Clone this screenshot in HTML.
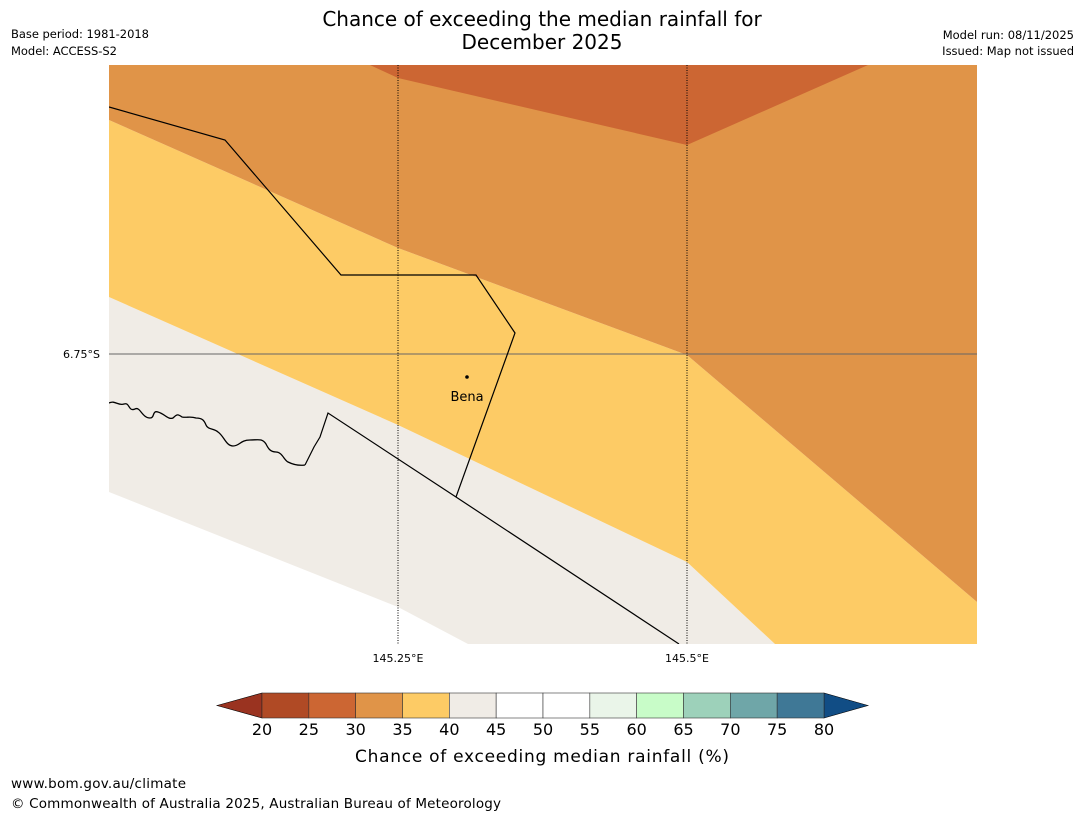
<!DOCTYPE html>
<html><head><meta charset="utf-8"><style>
body{margin:0;background:#fff;font-family:"Liberation Sans","DejaVu Sans",sans-serif}
svg{display:block}
</style></head><body>
<svg width="1085" height="816" viewBox="0 0 1085 816">
<text x="542" y="26" font-size="20" text-anchor="middle" font-family="DejaVu Sans,sans-serif">Chance of exceeding the median rainfall for</text>
<text x="542" y="49" font-size="20" text-anchor="middle" font-family="DejaVu Sans,sans-serif">December 2025</text>
<g font-size="11.5" font-family="DejaVu Sans,sans-serif">
<text x="11" y="38" textLength="138">Base period: 1981-2018</text>
<text x="11" y="55" textLength="106">Model: ACCESS-S2</text>
<text x="1074" y="39" text-anchor="end">Model run: 08/11/2025</text>
<text x="1074" y="55" text-anchor="end">Issued: Map not issued</text>
</g>
<defs><clipPath id="mc"><rect x="109" y="65" width="868" height="579"/></clipPath></defs>
<g clip-path="url(#mc)">
<rect x="109" y="65" width="868" height="579" fill="#ffffff"/>
<polygon fill="#f0ece6" points="109,297 398,425 687,562 775,644 468,644 398,607 109,492"/>
<polygon fill="#fdcb65" points="109,120 398,248 687,355 977,602 977,644 775,644 687,562 398,425 109,297"/>
<polygon fill="#e09448" points="109,65 977,65 977,602 687,355 398,248 109,120"/>
<polygon fill="#cc6633" points="370,65 868,65 687,145 398,78"/>
<line x1="398" y1="65" x2="398" y2="644" stroke="#000" stroke-width="1" stroke-dasharray="1,1.5"/>
<line x1="687" y1="65" x2="687" y2="644" stroke="#000" stroke-width="1" stroke-dasharray="1,1.5"/>
<line x1="109" y1="354" x2="977" y2="354" stroke="#666" stroke-width="1"/>
<polyline fill="none" stroke="#000" stroke-width="1.2" points="109,107 225,140 341,275 476,275 515,333 456,497"/>
<polyline fill="none" stroke="#000" stroke-width="1.2" points="305,465 314,447 320,437 328,413 456,497 679,644"/>
<path fill="none" stroke="#000" stroke-width="1.3" d="M109,403 C115,400 118,406 124,404 C130,402 128,412 135,409 C140,406 142,418 150,418 C155,418 152,410 158,412 C165,414 168,420 173,418 C177,414 178,414 182,417 C187,418 190,416 196,418 C202,418 204,420 206,425 C208,430 214,428 218,432 C224,436 226,446 233,446 C240,446 240,440 250,440 C258,440 262,438 266,444 C268,448 270,452 276,452 C282,452 284,460 288,462 C292,464 298,466 305,465"/>
<circle cx="467" cy="377" r="1.8" fill="#000"/>
<text x="467" y="401" font-size="13" text-anchor="middle" font-family="DejaVu Sans,sans-serif">Bena</text>
</g>
<g font-size="11" font-family="DejaVu Sans,sans-serif">
<text x="100" y="358" text-anchor="end">6.75°S</text>
<text x="398" y="662" text-anchor="middle">145.25°E</text>
<text x="687" y="662" text-anchor="middle">145.5°E</text>
</g>
<g id="cbar"></g>
<text x="542" y="762" font-size="17" text-anchor="middle" textLength="374" font-family="DejaVu Sans,sans-serif">Chance of exceeding median rainfall (%)</text>
<text x="11" y="788" font-size="13.5" font-family="DejaVu Sans,sans-serif" textLength="175">www.bom.gov.au/climate</text>
<text x="11" y="808" font-size="13.5" font-family="DejaVu Sans,sans-serif" textLength="490">© Commonwealth of Australia 2025, Australian Bureau of Meteorology</text>
</svg>
<script>
const ticks=[20,25,30,35,40,45,50,55,60,65,70,75,80];
const colors=["#b04a25","#cc6633","#e09448","#fdcb65","#f0ece6","#ffffff","#ffffff","#eaf5e9","#c8fcc8","#9dd1ba","#6fa6a8","#3f7896"];
const ns="http://www.w3.org/2000/svg";
const g=document.getElementById('cbar');
const x0=262,x1=824,y0=693,y1=718;
const sx=v=>x0+(v-ticks[0])/(ticks[ticks.length-1]-ticks[0])*(x1-x0);
function mk(t,a){const e=document.createElementNS(ns,t);for(const k in a)e.setAttribute(k,a[k]);g.appendChild(e);return e;}
let l=mk('polygon',{points:`217,705.5 ${x0},${y0} ${x0},${y1}`,fill:'#9a3320',stroke:'#000','stroke-width':0.6});


let r=mk('polygon',{points:`868,705.5 ${x1},${y0} ${x1},${y1}`,fill:'#114d85',stroke:'#000','stroke-width':0.6});


colors.forEach((c,i)=>{
 const a=sx(ticks[i]),b=sx(ticks[i+1]);
 const e=mk('rect',{x:a,y:y0,width:b-a,height:y1-y0,fill:c,stroke:'#333','stroke-width':0.6});
 
 
});
ticks.forEach(v=>{
 const t=mk('text',{x:sx(v),y:735,'font-size':16,'text-anchor':'middle','font-family':'DejaVu Sans,sans-serif'});
 t.textContent=v;
 
 
});
</script>
</body></html>
